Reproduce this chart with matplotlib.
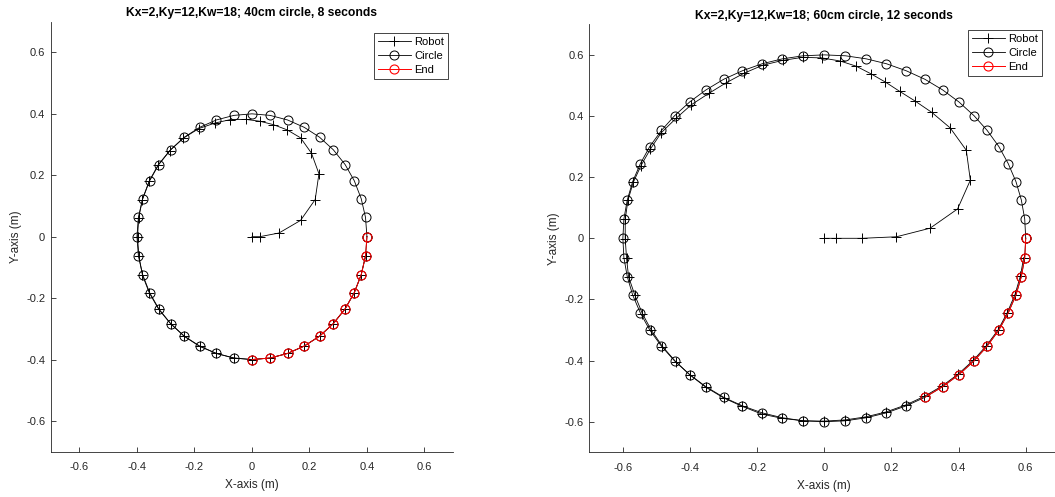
import matplotlib
matplotlib.use("Agg")
import matplotlib.pyplot as plt

plt.rcParams['font.family'] = ['Liberation Sans', 'DejaVu Sans']

# ---- left: 40cm circle, 8 seconds ----
titles = ['Kx=2,Ky=12,Kw=18; 40cm circle, 8 seconds',
          'Kx=2,Ky=12,Kw=18; 60cm circle, 12 seconds']

circle40_x = [0.400, 0.395, 0.380, 0.356, 0.324, 0.283, 0.235, 0.182, 0.124, 0.063, 0.000,
              -0.063, -0.124, -0.182, -0.235, -0.283, -0.324, -0.356, -0.380, -0.395, -0.400,
              -0.395, -0.380, -0.356, -0.324, -0.283, -0.235, -0.182, -0.124, -0.063, 0.000,
              0.063, 0.124, 0.182, 0.235, 0.283, 0.324, 0.356, 0.380, 0.395, 0.400]
circle40_y = [0.000, 0.063, 0.124, 0.182, 0.235, 0.283, 0.324, 0.356, 0.380, 0.395, 0.400,
              0.395, 0.380, 0.356, 0.324, 0.283, 0.235, 0.182, 0.124, 0.063, 0.000,
              -0.063, -0.124, -0.182, -0.235, -0.283, -0.324, -0.356, -0.380, -0.395, -0.400,
              -0.395, -0.380, -0.356, -0.324, -0.283, -0.235, -0.182, -0.124, -0.063, 0.000]
robot40_x = [0.000, 0.027, 0.094, 0.169, 0.220, 0.233, 0.207, 0.169, 0.122, 0.074, 0.027,
             -0.022, -0.076, -0.129, -0.185, -0.240, -0.286, -0.326, -0.358, -0.381, -0.394,
             -0.398, -0.393, -0.381, -0.357, -0.324, -0.283, -0.236, -0.182, -0.124, -0.063,
             0.000, 0.063, 0.124, 0.182, 0.235, 0.283, 0.324, 0.356, 0.380, 0.395]
robot40_y = [0.000, 0.000, 0.012, 0.053, 0.121, 0.205, 0.272, 0.322, 0.348, 0.365, 0.376,
             0.382, 0.381, 0.370, 0.352, 0.320, 0.280, 0.234, 0.180, 0.121, 0.061,
             -0.002, -0.064, -0.125, -0.183, -0.237, -0.283, -0.324, -0.357, -0.380, -0.395,
             -0.400, -0.395, -0.380, -0.356, -0.324, -0.283, -0.235, -0.182, -0.124, -0.063]
end40_start = 30   # last 11 circle points drawn red

# ---- right: 60cm circle, 12 seconds ----
circle60_x = [0.600, 0.597, 0.587, 0.571, 0.548, 0.520, 0.485, 0.446, 0.401, 0.353, 0.300,
              0.244, 0.185, 0.125, 0.063, 0.000,
              -0.063, -0.125, -0.185, -0.244, -0.300, -0.353, -0.401, -0.446, -0.485, -0.520,
              -0.548, -0.571, -0.587, -0.597, -0.600,
              -0.597, -0.587, -0.571, -0.548, -0.520, -0.485, -0.446, -0.401, -0.353, -0.300,
              -0.244, -0.185, -0.125, -0.063, 0.000,
              0.063, 0.125, 0.185, 0.244, 0.300, 0.353, 0.401, 0.446, 0.485, 0.520,
              0.548, 0.571, 0.587, 0.597, 0.600]
circle60_y = [0.000, 0.063, 0.125, 0.185, 0.244, 0.300, 0.353, 0.401, 0.446, 0.485, 0.520,
              0.548, 0.571, 0.587, 0.597, 0.600,
              0.597, 0.587, 0.571, 0.548, 0.520, 0.485, 0.446, 0.401, 0.353, 0.300,
              0.244, 0.185, 0.125, 0.063, 0.000,
              -0.063, -0.125, -0.185, -0.244, -0.300, -0.353, -0.401, -0.446, -0.485, -0.520,
              -0.548, -0.571, -0.587, -0.597, -0.600,
              -0.597, -0.587, -0.571, -0.548, -0.520, -0.485, -0.446, -0.401, -0.353, -0.300,
              -0.244, -0.185, -0.125, -0.063, 0.000]
robot60_x = [0.000, 0.034, 0.113, 0.215, 0.315, 0.397, 0.435, 0.423, 0.375, 0.320, 0.269,
             0.224, 0.182, 0.139, 0.095, 0.047, -0.007, -0.064, -0.124, -0.184, -0.239,
             -0.292, -0.344, -0.396, -0.442, -0.486, -0.518, -0.546, -0.569, -0.585, -0.593,
             -0.593, -0.589, -0.583, -0.564, -0.542, -0.515, -0.482, -0.443, -0.399, -0.353,
             -0.300, -0.244, -0.186, -0.125, -0.062, 0.000,
             0.063, 0.124, 0.184, 0.243, 0.298, 0.351, 0.399, 0.444, 0.483, 0.518,
             0.545, 0.568, 0.584, 0.594]
robot60_y = [0.000, 0.000, 0.000, 0.005, 0.033, 0.096, 0.190, 0.288, 0.361, 0.412, 0.450,
             0.481, 0.511, 0.538, 0.563, 0.580, 0.590, 0.592, 0.582, 0.566, 0.540,
             0.509, 0.474, 0.437, 0.392, 0.345, 0.292, 0.238, 0.183, 0.124, 0.062,
             -0.002, -0.066, -0.126, -0.187, -0.246, -0.301, -0.354, -0.403, -0.448, -0.487,
             -0.522, -0.550, -0.575, -0.589, -0.597, -0.598,
             -0.594, -0.584, -0.568, -0.545, -0.517, -0.483, -0.444, -0.399, -0.351, -0.299,
             -0.243, -0.184, -0.124, -0.063]
end60_start = 50

ticks = [-0.6, -0.4, -0.2, 0, 0.2, 0.4, 0.6]
tick_labels = ['-0.6', '-0.4', '-0.2', '0', '0.2', '0.4', '0.6']

W, H = 1055, 497
fig = plt.figure(figsize=(W / 100, H / 100), dpi=100)
ax1 = fig.add_axes([50.7 / W, 45.3 / H, 402.5 / W, 430 / H])
ax2 = fig.add_axes([589.3 / W, 44.7 / H, 470 / W, 428 / H])

grey = '#262626'
panels = [
    (ax1, robot40_x, robot40_y, circle40_x, circle40_y, end40_start, titles[0], (448 / W, 1 - 33 / H)),
    (ax2, robot60_x, robot60_y, circle60_x, circle60_y, end60_start, titles[1], (1042 / W, 1 - 30 / H)),
]

for ax, rx, ry, cx, cy, s, title, anchor in panels:
    ax.plot(rx, ry, '-+', color='k', lw=0.6, ms=6.5, mew=0.7, label='Robot')
    ax.plot(cx, cy, '-o', color='k', lw=0.6, ms=6.5, mew=0.7, mfc='none', label='Circle')
    ax.plot(cx[s:], cy[s:], '-o', color='r', lw=0.7, ms=6.5, mew=0.8, mfc='none', label='End')

    ax.set_xlim(-0.7, 0.7)
    ax.set_ylim(-0.7, 0.7)
    ax.set_xticks(ticks)
    ax.set_xticklabels(tick_labels)
    ax.set_yticks(ticks)
    ax.set_yticklabels(tick_labels)
    for side in ['top', 'right']:
        ax.spines[side].set_visible(False)
    for side in ['left', 'bottom']:
        ax.spines[side].set_color(grey)
        ax.spines[side].set_linewidth(0.6)
    ax.tick_params(direction='in', length=3.5, width=0.6, colors=grey,
                   labelsize=8, labelcolor=grey)
    ax.tick_params(axis='x', pad=7.5)
    ax.tick_params(axis='y', pad=4)

    ax.set_xlabel('X-axis (m)', fontsize=8.5, color=grey, labelpad=5)
    ax.set_ylabel('Y-axis (m)', fontsize=8.5, color=grey, labelpad=3)
    ax.set_title(title, fontsize=8.7, fontweight='bold', pad=4)

    leg = ax.legend(loc='upper right', bbox_to_anchor=anchor, bbox_transform=fig.transFigure,
                    fontsize=8, frameon=True, fancybox=False, framealpha=1,
                    edgecolor=grey, handlelength=3.0, handletextpad=0.3,
                    labelspacing=0.35, borderpad=0.35, borderaxespad=0)
    leg.get_frame().set_linewidth(0.6)

fig.savefig('out.png', dpi=100)
